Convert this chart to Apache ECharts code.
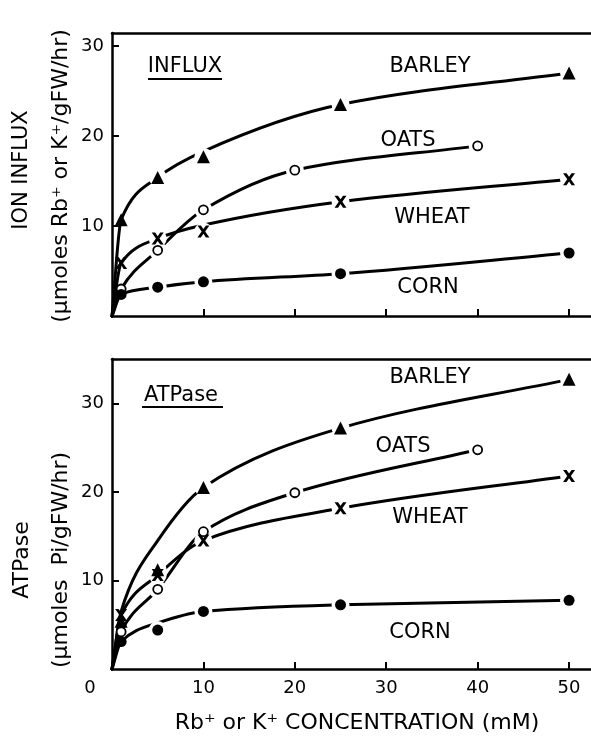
<!DOCTYPE html>
<html>
<head>
<meta charset="utf-8">
<script src="https://cdn.jsdelivr.net/npm/echarts@6/dist/echarts.min.js"></script>
<style>
html,body{margin:0;padding:0;background:#fff;}
#chart{width:591px;height:736px;}
</style>
</head>
<body>
<div id="chart"></div>
<script>
// ---- data ----
const conc = [1, 5, 10, 25, 50];          // barley, wheat, corn
const concOats = [1, 5, 10, 20, 40];      // oats
const fitConc = [0, 1, 5, 10, 25, 50];
const fitConcOats = [0, 1, 5, 10, 20, 40];

// Ion influx (umol Rb+ or K+ / gFW / hr)
const influxBarley = [10.7, 15.4, 17.7, 23.5, 27.0];
const influxOats   = [3.0, 7.3, 11.8, 16.2, 18.9];
const influxWheat  = [5.9, 8.6, 9.4, 12.7, 15.2];
const influxCorn   = [2.4, 3.2, 3.8, 4.7, 7.0];
// fitted curves
const influxBarleyFit = [0, 10.7, 15.4, 18.3, 23.5, 27.0];
const influxOatsFit   = [0, 3.0, 7.3, 11.8, 16.2, 18.9];
const influxWheatFit  = [0, 5.9, 8.6, 10.1, 12.7, 15.2];
const influxCornFit   = [0, 2.4, 3.2, 3.8, 4.7, 7.0];

// ATPase (umol Pi / gFW / hr)
const atpBarley = [5.4, 11.2, 20.5, 27.2, 32.7];
const atpOats   = [4.2, 9.0, 15.5, 19.9, 24.75];
const atpWheat  = [6.1, 10.6, 14.5, 18.15, 21.8];
const atpCorn   = [3.1, 4.4, 6.5, 7.25, 7.75];
const atpBarleyFit = [0, 6.5, 14.5, 20.5, 27.2, 32.7];
const atpOatsFit   = [0, 4.2, 9.0, 15.5, 19.9, 24.75];
const atpWheatFit  = [0, 6.1, 10.6, 14.5, 18.15, 21.8];
const atpCornFit   = [0, 3.1, 5.2, 6.5, 7.25, 7.75];

const xTickValues = [10, 20, 30, 40, 50];
const xLabelValues = [0, 10, 20, 30, 40, 50];
const yTickValues = [10, 20, 30];

const cropNames = ['BARLEY', 'OATS', 'WHEAT', 'CORN'];

// ---- styling ----
const FONT = 'DejaVu Sans';
const INK = '#000';
const X_PATH = 'path://M0,0 L2.9,0 L5,3.0 L7.1,0 L10,0 L6.5,5 L10,10 L7.1,10 L5,7.0 L2.9,10 L0,10 L3.5,5 Z';
const markerStyle = {
  triangle: { symbol: 'triangle', symbolSize: 13, itemStyle: { color: INK, opacity: 1 } },
  open:     { symbol: 'circle', symbolSize: 9, itemStyle: { color: '#fff', borderColor: INK, borderWidth: 1.8, opacity: 1 } },
  cross:    { symbol: X_PATH, symbolSize: 12, itemStyle: { color: INK, opacity: 1 } },
  dot:      { symbol: 'circle', symbolSize: 11, itemStyle: { color: INK, opacity: 1 } }
};

function pairs(xs, ys) { return xs.map((x, i) => [x, ys[i]]); }

// Monotone cubic (Fritsch-Carlson) path through pixel points
function monotonePath(pts) {
  const n = pts.length;
  if (n < 2) return '';
  const dx = [], dy = [], m = [];
  for (let i = 0; i < n - 1; i++) {
    dx.push(pts[i + 1][0] - pts[i][0]);
    dy.push(pts[i + 1][1] - pts[i][1]);
    m.push(dy[i] / dx[i]);
  }
  const t = [m[0]];
  for (let i = 1; i < n - 1; i++) {
    if (m[i - 1] * m[i] <= 0) t.push(0);
    else {
      const w1 = 2 * dx[i] + dx[i - 1], w2 = dx[i] + 2 * dx[i - 1];
      t.push((w1 + w2) / (w1 / m[i - 1] + w2 / m[i]));
    }
  }
  t.push(m[n - 2]);
  let d = 'M' + pts[0][0] + ',' + pts[0][1];
  for (let i = 0; i < n - 1; i++) {
    const h = dx[i] / 3;
    d += ' C' + (pts[i][0] + h) + ',' + (pts[i][1] + h * t[i]) + ' ' +
         (pts[i + 1][0] - h) + ',' + (pts[i + 1][1] - h * t[i + 1]) + ' ' +
         pts[i + 1][0] + ',' + pts[i + 1][1];
  }
  return d;
}

function curve(idx, xs, ys) {
  const data = pairs(xs, ys);
  return {
    type: 'custom', xAxisIndex: idx * 2, yAxisIndex: idx,
    data, silent: true, z: 2, animation: false, clip: false,
    renderItem: function (params, api) {
      if (params.dataIndex !== 0) return null;
      const pts = data.map(p => api.coord(p));
      return {
        type: 'path',
        shape: { pathData: monotonePath(pts) },
        style: { fill: 'none', stroke: INK, lineWidth: 3, lineJoin: 'round', lineCap: 'round' }
      };
    }
  };
}
function halo(idx, xs, ys) {
  return {
    type: 'scatter', xAxisIndex: idx * 2, yAxisIndex: idx,
    data: pairs(xs, ys).filter(p => p[0] >= 5),
    symbol: 'circle', symbolSize: 18, itemStyle: { color: '#fff', opacity: 1 },
    silent: true, z: 3, animation: false
  };
}
function marks(idx, xs, ys, kind) {
  return Object.assign({
    type: 'scatter', xAxisIndex: idx * 2, yAxisIndex: idx,
    data: pairs(xs, ys), silent: true, z: 4, animation: false
  }, markerStyle[kind]);
}

function xAxes(gridIndex, showLabels) {
  return [{
    type: 'value', gridIndex, min: 0, max: 52.4, interval: 10,
    axisLine: { show: true, lineStyle: { color: INK, width: 2.5 } },
    axisTick: { show: true, inside: true, length: 7, customValues: xTickValues, lineStyle: { color: INK, width: 2 } },
    axisLabel: {
      show: showLabels, customValues: xLabelValues, margin: 10,
      fontFamily: FONT, fontSize: 18, color: INK,
      formatter: v => (v === 0 ? '{z|0}' : String(v)),
      rich: { z: { fontFamily: FONT, fontSize: 18, color: INK, padding: [0, 44, 0, 0] } }
    },
    splitLine: { show: false }
  }, {
    type: 'value', gridIndex, position: 'top', min: 0, max: 52.4,
    axisLine: { show: true, lineStyle: { color: INK, width: 2.5 } },
    axisTick: { show: false }, axisLabel: { show: false }, splitLine: { show: false }
  }];
}
function yAxis(gridIndex, max) {
  return {
    type: 'value', gridIndex, min: 0, max, interval: 10,
    axisLine: { show: true, lineStyle: { color: INK, width: 2.5 } },
    axisTick: { show: true, inside: true, length: 7, customValues: yTickValues, lineStyle: { color: INK, width: 2 } },
    axisLabel: { show: true, customValues: yTickValues, margin: 8, fontFamily: FONT, fontSize: 18, color: INK },
    splitLine: { show: false }
  };
}

function txt(x, y, text, size, rot) {
  return {
    type: 'text', x, y, rotation: rot || 0, silent: true,
    style: { text, fontFamily: FONT, fontSize: size, fill: INK, align: 'center', verticalAlign: 'middle' }
  };
}
function uline(x1, x2, y) {
  return { type: 'line', silent: true, shape: { x1, y1: y, x2, y2: y }, style: { stroke: INK, lineWidth: 2 } };
}

const chart = echarts.init(document.getElementById('chart'), null, { renderer: 'canvas' });
chart.setOption({
  backgroundColor: '#fff',
  animation: false,
  grid: [
    { left: 112, top: 33, width: 479, height: 283 },
    { left: 112, top: 359, width: 479, height: 310 }
  ],
  xAxis: [].concat(xAxes(0, false), xAxes(1, true)),
  yAxis: [yAxis(0, 31.44), yAxis(1, 35)],
  series: [
    curve(0, fitConc, influxBarleyFit), curve(0, fitConcOats, influxOatsFit),
    curve(0, fitConc, influxWheatFit), curve(0, fitConc, influxCornFit),
    halo(0, conc, influxBarley), halo(0, concOats, influxOats),
    halo(0, conc, influxWheat), halo(0, conc, influxCorn),
    marks(0, conc, influxBarley, 'triangle'), marks(0, concOats, influxOats, 'open'),
    marks(0, conc, influxWheat, 'cross'), marks(0, conc, influxCorn, 'dot'),

    curve(1, fitConc, atpBarleyFit), curve(1, fitConcOats, atpOatsFit),
    curve(1, fitConc, atpWheatFit), curve(1, fitConc, atpCornFit),
    halo(1, conc, atpBarley), halo(1, concOats, atpOats),
    halo(1, conc, atpWheat), halo(1, conc, atpCorn),
    marks(1, conc, atpBarley, 'triangle'), marks(1, concOats, atpOats, 'open'),
    marks(1, conc, atpWheat, 'cross'), marks(1, conc, atpCorn, 'dot')
  ],
  graphic: [
    // panel titles
    txt(185, 67, 'INFLUX', 21), uline(148, 222, 79),
    txt(181, 396, 'ATPase', 21), uline(142, 223, 407),
    // crop labels, influx panel
    txt(430, 67, cropNames[0], 21), txt(408, 141, cropNames[1], 21),
    txt(432, 218, cropNames[2], 21), txt(428, 288, cropNames[3], 21),
    // crop labels, ATPase panel
    txt(430, 378, cropNames[0], 21), txt(403, 447, cropNames[1], 21),
    txt(430, 518, cropNames[2], 21), txt(420, 633, cropNames[3], 21),
    // axis titles
    txt(22, 170, 'ION INFLUX', 21, Math.PI / 2),
    txt(61, 176, '(\u00b5moles Rb\u207a or K\u207a/gFW/hr)', 22, Math.PI / 2),
    txt(22, 560, 'ATPase', 22, Math.PI / 2),
    txt(61, 560, '(\u00b5moles  Pi/gFW/hr)', 22, Math.PI / 2),
    txt(357, 723, 'Rb\u207a or K\u207a CONCENTRATION (mM)', 22)
  ]
});
</script>
</body>
</html>
